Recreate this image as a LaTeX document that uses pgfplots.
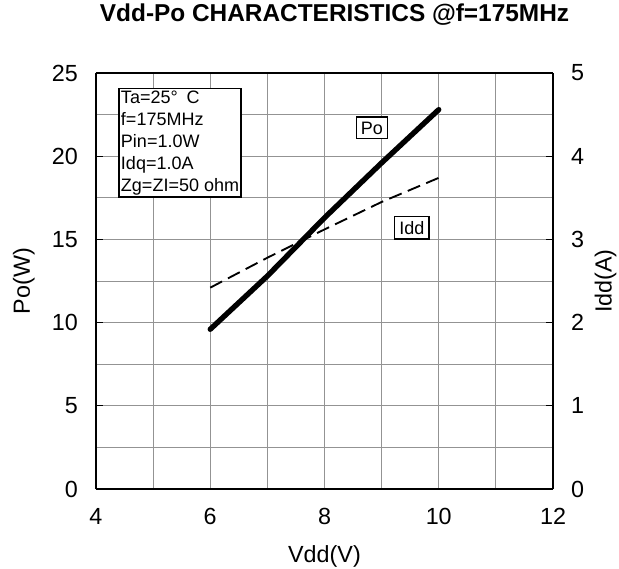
\documentclass[border=0pt]{standalone}
\usepackage{fontspec}
\setmainfont{Liberation Sans}
\usepackage{pgfplots}
\pgfplotsset{compat=1.18}

\pgfplotstableread{
x po
6 9.6
7 12.8
8 16.3
9 19.6
10 22.8
}\podata
\pgfplotstableread{
x idd
6 2.42
7 2.78
8 3.12
9 3.45
10 3.74
}\idddata

\pgfplotsset{
  base/.style={
    scale only axis,
    width=342.75pt, height=312pt,
    xmin=4, xmax=12,
    axis line style={line width=1.6pt},
    tick align=inside,
    major tick length=5pt,
    tick style={black, line width=0.8pt},
    ticklabel style={font=\fontsize{17.5}{19}\selectfont},
    label style={font=\fontsize{17.5}{19}\selectfont},
    /pgf/number format/assume math mode=true,
  }
}

\begin{document}
\begin{tikzpicture}
\begin{axis}[base,
  name=ax,
  ymin=0, ymax=25,
  xtick={4,6,8,10,12},
  minor xtick={5,7,9,11},
  ytick={0,5,...,25},
  minor ytick={2.5,7.5,...,22.5},
  grid=both,
  grid style={gray!85, line width=0.6pt},
  minor grid style={gray!85, line width=0.6pt},
  minor tick length=0pt,
  xtick style={draw=none},
  axis y line*=left,
  axis x line*=box,
  xticklabel style={yshift=-11pt},
  yticklabel style={xshift=-10pt},
  xlabel={Vdd(V)},
  ylabel={Po(W)},
  xlabel style={at={(axis description cs:0.5,-0.162)}, anchor=center},
  ylabel style={at={(axis description cs:-0.158,0.5)}, anchor=center},
  title={\bfseries Vdd-Po CHARACTERISTICS @f=175MHz},
  title style={font=\fontsize{18.3}{20}\selectfont, at={(axis description cs:0.522,1.12)}, anchor=center},
]
\addplot[black, line width=4pt, line cap=round] table[x=x, y=po] {\podata};
\node[draw, line width=1.1pt, fill=white, align=left, anchor=north west,
      inner sep=1.5pt, font=\fontsize{13.5}{16.5}\selectfont]
  at (axis cs:4.39,24.1)
  {Ta=25°\enspace C\\f=175MHz\\Pin=1.0W\\Idq=1.0A\\Zg=ZI=50 ohm};
\node[draw, line width=0.9pt, fill=white, inner sep=3.5pt,
      font=\fontsize{13.5}{15}\selectfont] at (axis cs:8.83,21.7) {Po};
\node[draw, line width=0.9pt, fill=white, inner sep=3.5pt,
      font=\fontsize{13.5}{15}\selectfont] at (axis cs:9.53,15.7) {Idd};
\coordinate (bl) at (rel axis cs:-0.21,-0.19);
\coordinate (tr) at (rel axis cs:1.1444,1.1755);
\end{axis}
\begin{axis}[base,
  ymin=0, ymax=5,
  ytick={0,1,...,5},
  axis y line*=right,
  axis x line=none,
  yticklabel style={xshift=10pt},
  ylabel={Idd(A)},
  ylabel style={at={(axis description cs:1.115,0.5)}, anchor=center},
]
\addplot[black, line width=1.4pt, dash pattern=on 10pt off 5pt] table[x=x, y=idd] {\idddata};
\end{axis}
\pgfresetboundingbox
\path[use as bounding box] (bl) rectangle (tr);
\end{tikzpicture}
\end{document}
